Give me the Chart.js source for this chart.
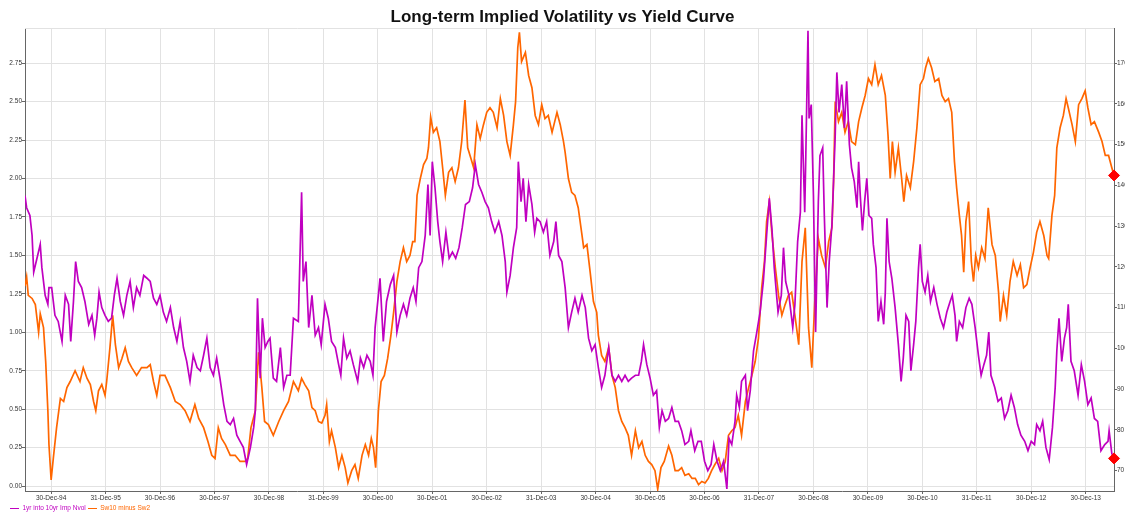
<!DOCTYPE html>
<html>
<head>
<meta charset="utf-8">
<script src="https://cdn.jsdelivr.net/npm/chart.js@4.4.1/dist/chart.umd.min.js"></script>
<style>
  html, body { margin: 0; padding: 0; background: #fff; overflow: hidden; }
  #wrap { position: relative; width: 1125px; height: 515px; }
  #box { position: absolute; left: 0; top: 0; width: 1125px; height: 515px; }
  #legend { position: absolute; left: 10px; top: 503px; font-size: 6.5px; font-family: 'Liberation Sans', Arial, sans-serif; line-height: 10px; white-space: nowrap; }
  #legend span.item { display: inline-block; margin-right: 2px; }
  #legend span.swatch { display: inline-block; width: 9px; height: 1.5px; vertical-align: middle; margin-right: 3.5px; }
</style>
</head>
<body>
<div id="wrap">
  <div id="box"><canvas id="chart"></canvas></div>
  <div id="legend"></div>
</div>
<script>
const chartTitle = 'Long-term Implied Volatility vs Yield Curve'
const seriesNames = ['1yr into 10yr Imp Nvol', 'Sw10 minus Sw2']

// x tick labels (year-end dates, expressed as decimal years)
const tickYears = [1995, 1996, 1997, 1998, 1999, 2000, 2001, 2002, 2003, 2004, 2005, 2006, 2007, 2008, 2009, 2010, 2011, 2012, 2013, 2014]
const tickLabels = ['30-Dec-94', '31-Dec-95', '30-Dec-96', '30-Dec-97', '30-Dec-98', '31-Dec-99', '30-Dec-00', '30-Dec-01', '30-Dec-02', '31-Dec-03',
  '30-Dec-04', '30-Dec-05', '30-Dec-06', '31-Dec-07', '30-Dec-08', '30-Dec-09', '30-Dec-10', '31-Dec-11', '30-Dec-12', '30-Dec-13']

const leftTicks = [0, 0.25, 0.5, 0.75, 1, 1.25, 1.5, 1.75, 2, 2.25, 2.5, 2.75]
const rightTicks = [70, 80, 90, 100, 110, 120, 130, 140, 150, 160, 170]

// 1yr into 10yr normal vol (bp, right axis)
const volDates = [
  1994.52, 1994.55, 1994.61, 1994.65, 1994.68, 1994.74, 1994.80, 1994.83, 1994.89, 1994.94, 1994.96, 1995.01, 1995.07, 1995.13, 1995.20, 1995.26, 1995.32, 1995.36, 1995.41, 1995.45, 1995.50, 1995.56, 1995.62, 1995.69, 1995.75, 1995.80, 1995.84, 1995.88, 1995.93, 1995.99,
  1996.05, 1996.11, 1996.16, 1996.21, 1996.27, 1996.33, 1996.39, 1996.45, 1996.51, 1996.57, 1996.63, 1996.70, 1996.76, 1996.82, 1996.88, 1996.94,
  1997.00, 1997.06, 1997.12, 1997.19, 1997.25, 1997.31, 1997.37, 1997.43, 1997.49, 1997.55, 1997.61, 1997.68, 1997.74, 1997.80, 1997.86, 1997.92, 1997.98,
  1998.04, 1998.10, 1998.17, 1998.23, 1998.29, 1998.35, 1998.41, 1998.47, 1998.53, 1998.59, 1998.66, 1998.72, 1998.75, 1998.79, 1998.84, 1998.88, 1998.93, 1998.98,
  1999.02, 1999.08, 1999.14, 1999.21, 1999.27, 1999.33, 1999.39, 1999.45, 1999.54, 1999.60, 1999.63, 1999.68, 1999.73, 1999.79, 1999.85, 1999.91, 1999.96,
  2000.03, 2000.09, 2000.15, 2000.22, 2000.28, 2000.32, 2000.37, 2000.43, 2000.49, 2000.55, 2000.63, 2000.68, 2000.74, 2000.80, 2000.86, 2000.91, 2000.95,
  2001.01, 2001.04, 2001.10, 2001.16, 2001.23, 2001.29, 2001.35, 2001.41, 2001.47, 2001.53, 2001.59, 2001.65, 2001.70, 2001.75, 2001.81, 2001.87, 2001.92, 2001.96,
  2002.00, 2002.05, 2002.10, 2002.14, 2002.19, 2002.25, 2002.31, 2002.37, 2002.43, 2002.49, 2002.55, 2002.61, 2002.68, 2002.74, 2002.79, 2002.85, 2002.91, 2002.97,
  2003.03, 2003.09, 2003.15, 2003.22, 2003.28, 2003.34, 2003.37, 2003.43, 2003.49, 2003.55, 2003.58, 2003.63, 2003.67, 2003.72, 2003.77, 2003.83, 2003.88, 2003.92, 2003.98,
  2004.04, 2004.10, 2004.16, 2004.23, 2004.27, 2004.32, 2004.38, 2004.44, 2004.50, 2004.56, 2004.62, 2004.68, 2004.75, 2004.81, 2004.87, 2004.93, 2004.99,
  2005.05, 2005.11, 2005.17, 2005.24, 2005.30, 2005.36, 2005.42, 2005.48, 2005.54, 2005.60, 2005.66, 2005.73, 2005.79, 2005.84, 2005.88, 2005.94,
  2006.00, 2006.06, 2006.12, 2006.17, 2006.22, 2006.28, 2006.34, 2006.40, 2006.46, 2006.52, 2006.58, 2006.64, 2006.71, 2006.75, 2006.82, 2006.88, 2006.94,
  2007.00, 2007.06, 2007.12, 2007.17, 2007.23, 2007.29, 2007.35, 2007.41, 2007.45, 2007.50, 2007.56, 2007.59, 2007.64, 2007.68, 2007.75, 2007.79, 2007.84, 2007.90, 2007.96,
  2008.02, 2008.08, 2008.14, 2008.19, 2008.24, 2008.28, 2008.35, 2008.41, 2008.45, 2008.49, 2008.55, 2008.62, 2008.66, 2008.71, 2008.76, 2008.79, 2008.84, 2008.86, 2008.90, 2008.92, 2008.96,
  2009.00, 2009.04, 2009.09, 2009.12, 2009.17, 2009.20, 2009.25, 2009.29, 2009.34, 2009.40, 2009.43, 2009.47, 2009.52, 2009.57, 2009.61, 2009.66, 2009.70, 2009.75, 2009.80, 2009.83, 2009.86, 2009.90, 2009.94, 2009.98,
  2010.02, 2010.07, 2010.10, 2010.15, 2010.19, 2010.24, 2010.29, 2010.32, 2010.35, 2010.39, 2010.44, 2010.50, 2010.56, 2010.61, 2010.65, 2010.70, 2010.75, 2010.79, 2010.84, 2010.88, 2010.93, 2010.96,
  2011.00, 2011.05, 2011.10, 2011.15, 2011.21, 2011.27, 2011.33, 2011.39, 2011.45, 2011.51, 2011.55, 2011.60, 2011.63, 2011.68, 2011.74, 2011.80, 2011.86, 2011.91, 2011.97,
  2012.03, 2012.08, 2012.13, 2012.18, 2012.22, 2012.26, 2012.33, 2012.39, 2012.45, 2012.51, 2012.57, 2012.63, 2012.69, 2012.75, 2012.81, 2012.88, 2012.94,
  2013.00, 2013.06, 2013.10, 2013.16, 2013.21, 2013.27, 2013.33, 2013.39, 2013.44, 2013.47, 2013.51, 2013.56, 2013.61, 2013.65, 2013.68, 2013.73, 2013.79, 2013.86, 2013.92, 2013.98,
  2014.04, 2014.10, 2014.16, 2014.22, 2014.28, 2014.35, 2014.41, 2014.43, 2014.48, 2014.52
]
const volValues = [
  137.5, 134.5, 132.6, 127.7, 118.7, 122.1, 125.5, 119.8, 113.0, 110.8, 114.9, 114.9, 108.1, 106.6, 101.7, 113.0, 110.8, 101.7, 111.5, 121.3, 116.4, 114.9, 111.5, 105.9, 108.1, 103.2, 107.4, 113.8, 110.0, 108.1,
  106.6, 107.4, 113.0, 117.2, 111.5, 108.1, 113.0, 116.4, 110.0, 114.9, 113.0, 117.9, 117.2, 116.4, 112.3, 110.8,
  113.0, 108.9, 106.6, 110.0, 105.1, 101.7, 106.6, 100.2, 96.8, 91.9, 98.3, 95.3, 94.5, 98.3, 102.5, 95.3, 93.4,
  97.6, 92.7, 86.2, 82.1, 81.3, 82.8, 78.7, 77.2, 75.7, 71.5, 75.7, 80.6, 84.7, 112.3, 92.7, 107.4, 100.2, 101.7,
  102.5, 92.7, 91.9, 100.2, 90.4, 93.4, 93.4, 107.4, 106.6, 138.3, 116.4, 121.3, 105.1, 113.0, 103.2, 105.1, 100.9,
  110.8, 107.4, 101.7, 100.2, 96.0, 93.4, 102.5, 97.6, 99.4, 96.0, 91.9, 97.6, 95.3, 98.3, 96.8, 93.4, 105.1,
  113.0, 117.2, 101.7, 111.5, 115.7, 117.9, 104.0, 108.1, 110.8, 108.1, 112.3, 114.9, 111.5, 119.8, 121.3, 127.7, 140.2, 127.7,
  145.8, 139.4, 131.1, 126.2, 121.3, 128.5, 122.1, 123.6, 122.1, 124.7, 129.6, 135.3, 136.0, 139.4, 145.1, 140.2, 138.3, 136.0,
  134.5, 131.1, 128.5, 131.1, 127.7, 121.3, 113.8, 117.9, 124.7, 129.6, 145.8, 136.0, 141.7, 131.1, 140.2, 135.3, 128.5, 131.9, 131.1,
  128.5, 131.1, 122.8, 126.2, 131.1, 122.8, 121.3, 114.9, 105.1, 108.9, 112.3, 108.9, 113.0, 110.0, 102.5, 99.4, 100.9,
  95.3, 90.4, 93.4, 100.2, 93.4, 91.9, 93.4, 91.9, 93.4, 91.9, 92.7, 93.4, 93.4, 96.8, 100.9, 96.0,
  92.7, 88.5, 89.6, 80.6, 84.7, 82.1, 82.8, 85.5, 82.1, 82.1, 79.8, 76.4, 77.2, 79.8, 74.9, 77.2, 77.2,
  72.3, 70.0, 71.5, 76.4, 72.3, 70.0, 72.3, 65.5, 77.9, 76.4, 82.1, 88.5, 85.5, 91.9, 93.4, 84.7, 89.6, 99.4, 104.0,
  108.9, 116.4, 127.7, 136.8, 128.9, 119.8, 108.9, 113.0, 124.7, 116.4, 113.0, 105.1, 110.8, 126.2, 133.4, 157.2, 133.4, 147.3, 177.9, 156.4, 159.8,
  137.5, 104.0, 136.0, 147.3, 149.2, 132.6, 110.0, 121.3, 130.4, 152.3, 167.7, 157.9, 164.7, 154.1, 165.5, 150.0, 144.3, 140.9, 134.5, 145.8, 137.5, 128.9, 136.0, 141.7,
  132.6, 131.9, 125.5, 119.8, 106.6, 111.5, 105.9, 113.8, 131.9, 121.3, 117.2, 110.0, 100.9, 91.9, 97.6, 108.1, 106.6, 94.5, 100.9, 106.6, 119.8, 125.5,
  116.4, 113.8, 117.9, 111.5, 114.9, 110.8, 107.4, 105.1, 108.9, 111.5, 113.0, 108.1, 101.7, 106.6, 105.1, 110.0, 112.3, 110.8, 105.1,
  98.3, 93.4, 96.0, 98.3, 104.0, 93.4, 90.4, 87.0, 87.8, 82.8, 84.7, 88.5, 85.5, 81.3, 78.7, 77.2, 74.9,
  77.2, 76.4, 81.3, 79.8, 82.1, 75.7, 72.7, 80.6, 90.4, 99.4, 107.4, 96.8, 102.5, 105.1, 110.8, 96.8, 94.5, 88.5, 96.0, 91.9,
  86.2, 87.8, 82.8, 82.1, 74.9, 76.4, 77.2, 79.8, 74.2, 73.0
]

// 10y swap minus 2y swap (%, left axis)
const curveDates = [
  1994.52, 1994.55, 1994.58, 1994.65, 1994.71, 1994.77, 1994.80, 1994.86, 1994.90, 1994.94, 1994.96, 1995.00, 1995.04, 1995.10, 1995.17, 1995.23, 1995.29, 1995.35, 1995.44, 1995.53, 1995.59, 1995.66, 1995.72, 1995.78, 1995.82, 1995.87, 1995.93, 1995.99,
  1996.02, 1996.08, 1996.13, 1996.18, 1996.24, 1996.30, 1996.36, 1996.42, 1996.48, 1996.57, 1996.66, 1996.76, 1996.82, 1996.88, 1996.94,
  1997.00, 1997.09, 1997.19, 1997.28, 1997.37, 1997.46, 1997.55, 1997.64, 1997.71, 1997.80, 1997.88, 1997.95,
  1998.01, 1998.07, 1998.13, 1998.20, 1998.29, 1998.38, 1998.47, 1998.56, 1998.61, 1998.67, 1998.75, 1998.81, 1998.87, 1998.92, 1998.99,
  1999.08, 1999.18, 1999.27, 1999.36, 1999.45, 1999.54, 1999.60, 1999.66, 1999.73, 1999.79, 1999.85, 1999.91, 1999.97,
  2000.03, 2000.06, 2000.11, 2000.15, 2000.22, 2000.28, 2000.34, 2000.40, 2000.45, 2000.52, 2000.58, 2000.64, 2000.71, 2000.77, 2000.83, 2000.88, 2000.92, 2000.96,
  2001.01, 2001.06, 2001.12, 2001.18, 2001.24, 2001.29, 2001.35, 2001.41, 2001.47, 2001.53, 2001.59, 2001.64, 2001.68, 2001.72, 2001.78, 2001.84, 2001.90, 2001.93, 2001.97,
  2002.02, 2002.08, 2002.14, 2002.19, 2002.24, 2002.30, 2002.36, 2002.42, 2002.48, 2002.54, 2002.60, 2002.65, 2002.71, 2002.76, 2002.82, 2002.88, 2002.94,
  2003.00, 2003.06, 2003.12, 2003.19, 2003.25, 2003.31, 2003.37, 2003.43, 2003.49, 2003.53, 2003.57, 2003.60, 2003.64, 2003.71, 2003.77, 2003.83, 2003.89, 2003.95,
  2004.01, 2004.07, 2004.13, 2004.20, 2004.29, 2004.35, 2004.41, 2004.44, 2004.50, 2004.56, 2004.62, 2004.68, 2004.75, 2004.78, 2004.84, 2004.90, 2004.96,
  2005.02, 2005.05, 2005.11, 2005.17, 2005.24, 2005.30, 2005.36, 2005.42, 2005.48, 2005.54, 2005.60, 2005.66, 2005.73, 2005.79, 2005.85, 2005.91, 2005.97,
  2006.03, 2006.09, 2006.14, 2006.20, 2006.26, 2006.34, 2006.40, 2006.46, 2006.52, 2006.58, 2006.64, 2006.71, 2006.77, 2006.83, 2006.89, 2006.95,
  2007.01, 2007.07, 2007.13, 2007.19, 2007.26, 2007.32, 2007.38, 2007.44, 2007.50, 2007.56, 2007.62, 2007.68, 2007.75, 2007.81, 2007.87, 2007.93, 2007.99,
  2008.05, 2008.10, 2008.14, 2008.19, 2008.24, 2008.30, 2008.36, 2008.42, 2008.48, 2008.54, 2008.60, 2008.66, 2008.73, 2008.79, 2008.85, 2008.91, 2008.97,
  2009.03, 2009.09, 2009.15, 2009.22, 2009.28, 2009.34, 2009.37, 2009.40, 2009.46, 2009.52, 2009.58, 2009.64, 2009.70, 2009.77, 2009.83, 2009.89, 2009.95,
  2010.01, 2010.07, 2010.13, 2010.19, 2010.25, 2010.32, 2010.37, 2010.41, 2010.45, 2010.50, 2010.56, 2010.62, 2010.66, 2010.71, 2010.78, 2010.84, 2010.90, 2010.96,
  2011.02, 2011.06, 2011.11, 2011.17, 2011.23, 2011.30, 2011.36, 2011.42, 2011.48, 2011.54, 2011.59, 2011.63, 2011.68, 2011.72, 2011.76, 2011.80, 2011.85, 2011.90, 2011.94, 2011.98,
  2012.03, 2012.09, 2012.15, 2012.21, 2012.28, 2012.34, 2012.40, 2012.43, 2012.49, 2012.55, 2012.61, 2012.67, 2012.74, 2012.80, 2012.86, 2012.92, 2012.98,
  2013.04, 2013.10, 2013.16, 2013.23, 2013.29, 2013.32, 2013.38, 2013.43, 2013.47, 2013.53, 2013.59, 2013.64, 2013.68, 2013.75, 2013.81, 2013.87, 2013.93, 2013.99,
  2014.04, 2014.10, 2014.16, 2014.24, 2014.30, 2014.36, 2014.42, 2014.48, 2014.52
]
const curveValues = [
  1.30, 1.36, 1.24, 1.22, 1.18, 1.00, 1.12, 1.03, 0.81, 0.49, 0.27, 0.04, 0.18, 0.38, 0.57, 0.55, 0.64, 0.68, 0.75, 0.68, 0.77, 0.70, 0.66, 0.55, 0.49, 0.62, 0.66, 0.59,
  0.68, 0.90, 1.11, 0.92, 0.77, 0.83, 0.90, 0.81, 0.77, 0.72, 0.77, 0.77, 0.79, 0.68, 0.59,
  0.72, 0.72, 0.64, 0.55, 0.53, 0.49, 0.42, 0.53, 0.44, 0.38, 0.29, 0.20,
  0.18, 0.38, 0.31, 0.27, 0.20, 0.20, 0.16, 0.16, 0.18, 0.38, 0.49, 0.87, 0.64, 0.42, 0.40,
  0.33, 0.42, 0.49, 0.55, 0.68, 0.62, 0.70, 0.66, 0.62, 0.51, 0.49, 0.42, 0.41,
  0.46, 0.53, 0.29, 0.36, 0.25, 0.12, 0.20, 0.12, 0.02, 0.10, 0.14, 0.05, 0.20, 0.27, 0.20, 0.31, 0.25, 0.12,
  0.49, 0.68, 0.72, 0.83, 0.98, 1.13, 1.33, 1.46, 1.55, 1.46, 1.50, 1.59, 1.59, 1.89, 2.00, 2.09, 2.13, 2.20, 2.40,
  2.30, 2.33, 2.24, 2.07, 1.89, 2.04, 2.07, 1.98, 2.07, 2.24, 2.51, 2.20, 2.13, 2.07, 2.35, 2.26, 2.35,
  2.43, 2.46, 2.43, 2.33, 2.52, 2.41, 2.24, 2.15, 2.35, 2.50, 2.85, 2.95, 2.76, 2.82, 2.67, 2.59, 2.41, 2.35,
  2.48, 2.39, 2.41, 2.30, 2.43, 2.35, 2.24, 2.17, 2.00, 1.91, 1.89, 1.81, 1.63, 1.55, 1.57, 1.39, 1.20,
  1.13, 0.98, 0.85, 0.81, 0.90, 0.72, 0.64, 0.49, 0.42, 0.38, 0.33, 0.20, 0.36, 0.25, 0.29, 0.20, 0.16,
  0.14, 0.10, -0.02, 0.12, 0.16, 0.26, 0.20, 0.10, 0.10, 0.12, 0.07, 0.08, 0.05, 0.05, 0.01, 0.03,
  0.02, 0.05, 0.10, 0.14, 0.18, 0.10, 0.16, 0.33, 0.36, 0.38, 0.46, 0.33, 0.55, 0.64, 0.72, 0.81, 0.96,
  1.29, 1.46, 1.72, 1.85, 1.63, 1.42, 1.24, 1.11, 1.18, 1.24, 1.26, 1.11, 0.92, 1.46, 1.68, 1.03, 0.77,
  1.24, 1.61, 1.50, 1.42, 1.59, 1.68, 1.98, 2.50, 2.37, 2.43, 2.30, 2.37, 2.24, 2.22, 2.37, 2.46, 2.54,
  2.65, 2.61, 2.74, 2.61, 2.67, 2.54, 2.28, 2.00, 2.24, 2.04, 2.20, 2.00, 1.85, 2.02, 1.94, 2.11, 2.33, 2.61,
  2.65, 2.72, 2.78, 2.72, 2.63, 2.65, 2.54, 2.50, 2.52, 2.43, 2.11, 1.94, 1.76, 1.63, 1.39, 1.72, 1.85, 1.46, 1.33, 1.50,
  1.42, 1.55, 1.48, 1.81, 1.57, 1.50, 1.26, 1.07, 1.24, 1.11, 1.33, 1.46, 1.37, 1.44, 1.29, 1.31, 1.42,
  1.52, 1.65, 1.72, 1.63, 1.50, 1.48, 1.76, 1.89, 2.20, 2.33, 2.41, 2.52, 2.46, 2.35, 2.24, 2.48, 2.52, 2.57,
  2.46, 2.35, 2.37, 2.30, 2.24, 2.15, 2.15, 2.07, 2.02
]

const purple = '#c000c0'
const orange = '#ff6600'
const gridColor = '#e2e2e2'
const axisColor = '#666'
const family = "'Liberation Sans', Arial, sans-serif"

const toPoints = (xs, ys) => xs.map((x, i) => ({ x: x, y: ys[i] }))
const lastPoint = (xs, ys) => [{ x: xs[xs.length - 1], y: ys[ys.length - 1] }]

// light line along the top of the plot area
const topLine = {
  id: 'topLine',
  beforeDatasetsDraw(chart) {
    const { ctx, chartArea } = chart
    ctx.save()
    ctx.strokeStyle = gridColor
    ctx.lineWidth = 1
    ctx.beginPath()
    ctx.moveTo(chartArea.left, Math.round(chartArea.top) + 0.5)
    ctx.lineTo(chartArea.right, Math.round(chartArea.top) + 0.5)
    ctx.stroke()
    ctx.restore()
  }
}

const tickFont = { size: 6.5, family: family }

new Chart(document.getElementById('chart').getContext('2d'), {
  type: 'line',
  data: {
    datasets: [
      {
        label: seriesNames[0],
        data: toPoints(volDates, volValues),
        yAxisID: 'yRight',
        borderColor: purple,
        borderWidth: 1.7,
        pointRadius: 0,
        tension: 0,
        order: 1
      },
      {
        label: seriesNames[1],
        data: toPoints(curveDates, curveValues),
        yAxisID: 'yLeft',
        borderColor: orange,
        borderWidth: 1.7,
        pointRadius: 0,
        tension: 0,
        order: 2
      },
      {
        label: 'last vol',
        data: lastPoint(volDates, volValues),
        yAxisID: 'yRight',
        showLine: false,
        pointStyle: 'rectRot',
        pointRadius: 5.5,
        backgroundColor: '#ff0000',
        borderColor: '#ff0000',
        clip: false,
        order: 0
      },
      {
        label: 'last curve',
        data: lastPoint(curveDates, curveValues),
        yAxisID: 'yLeft',
        showLine: false,
        pointStyle: 'rectRot',
        pointRadius: 5.5,
        backgroundColor: '#ff0000',
        borderColor: '#ff0000',
        clip: false,
        order: 0
      }
    ]
  },
  options: {
    responsive: true,
    maintainAspectRatio: false,
    animation: false,
    events: [],
    layout: { padding: 0 },
    plugins: {
      legend: { display: false },
      tooltip: { enabled: false },
      title: {
        display: true,
        text: chartTitle,
        color: '#111',
        font: { size: 17, weight: 'bold', family: family },
        padding: { top: 7, bottom: 1 }
      }
    },
    scales: {
      x: {
        type: 'linear',
        min: volDates[0],
        max: volDates[volDates.length - 1],
        afterBuildTicks: s => { s.ticks = tickYears.map(v => ({ value: v })) },
        afterFit: s => { s.height = 24 },
        grid: { color: gridColor, tickColor: axisColor, tickLength: 3 },
        border: { color: axisColor },
        ticks: {
          autoSkip: false, maxRotation: 0, padding: 0,
          font: tickFont, color: '#333',
          callback: (v, i) => tickLabels[i]
        }
      },
      yLeft: {
        type: 'linear',
        position: 'left',
        min: -0.032,
        max: 2.976,
        afterBuildTicks: s => { s.ticks = leftTicks.map(v => ({ value: v })) },
        afterFit: s => { s.width = 25 },
        grid: { color: gridColor, tickColor: axisColor, tickLength: 3 },
        border: { color: axisColor },
        ticks: { padding: 0, font: tickFont, color: '#333', callback: v => v.toFixed(2) }
      },
      yRight: {
        type: 'linear',
        position: 'right',
        min: 65,
        max: 178.5,
        afterBuildTicks: s => { s.ticks = rightTicks.map(v => ({ value: v })) },
        afterFit: s => { s.width = 11 },
        grid: { drawOnChartArea: false, tickColor: axisColor, tickLength: 3 },
        border: { color: axisColor },
        ticks: { padding: 0, font: tickFont, color: '#333', callback: v => String(v) }
      }
    }
  },
  plugins: [topLine]
})

// legend under the axis, text coloured like its series
const legend = document.getElementById('legend')
const legendColors = [purple, orange]
seriesNames.forEach((name, i) => {
  const item = document.createElement('span')
  item.className = 'item'
  item.innerHTML = '<span class="swatch" style="background:' + legendColors[i] + '"></span>'
  const text = document.createElement('span')
  text.textContent = name
  text.style.color = legendColors[i]
  item.appendChild(text)
  legend.appendChild(item)
})
</script>
</body>
</html>
